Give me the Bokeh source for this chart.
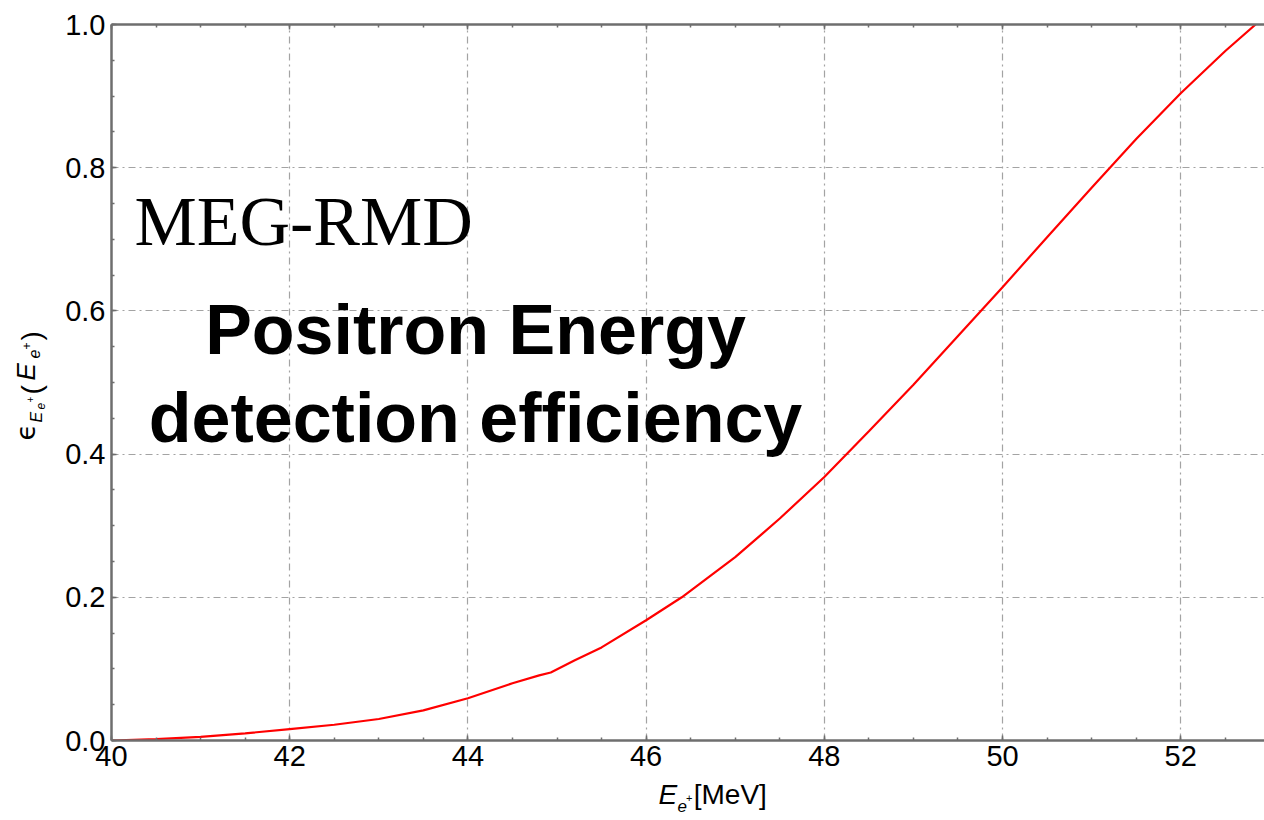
import math
from bokeh.plotting import figure
from bokeh.models import (Range1d, SingleIntervalTicker, PrintfTickFormatter,
                          LinearAxis, Label, CustomJSTickFormatter)
from bokeh.layouts import row, column
from bokeh.core.properties import value
from bokeh.embed import file_html
from bokeh.resources import INLINE

# ---------------- data ----------------
energy_mev = [40.0, 40.5, 41.0, 41.5, 42.0, 42.5, 43.0, 43.5, 44.0, 44.5,
              44.8, 44.93, 45.2, 45.5, 46.0, 46.4, 47.0, 47.5, 48.0, 48.5,
              49.0, 49.5, 50.0, 50.5, 51.0, 51.5, 52.0, 52.5, 52.84]
efficiency = [0.000, 0.002, 0.005, 0.010, 0.016, 0.022, 0.030, 0.042, 0.059, 0.080,
              0.091, 0.095, 0.112, 0.130, 0.168, 0.200, 0.256, 0.310, 0.368, 0.432,
              0.497, 0.565, 0.633, 0.703, 0.772, 0.840, 0.904, 0.963, 1.000]
x_tick_step = 2
y_tick_step = 0.2
annotation_serif = "MEG-RMD"
annotation_lines = ["Positron Energy", "detection efficiency"]

# ---------------- layout ----------------
W, H = 1264, 820
YLAB_W = 52          # strip holding the rotated y-axis label
XLAB_H = 42          # strip holding the x-axis label
LEFT, TOP, BOTTOM = 111, 24, 80   # frame position in the whole page
X0, X1 = 40.0, 52.94
Y0, Y1 = 0.0, 1.0
FW, FH = W - LEFT, H - TOP - BOTTOM
BASE_SHIFT = 0.37  # empirical em shift of Bokeh's alphabetic baseline


def dx(px):
    return X0 + (px - LEFT) / FW * (X1 - X0)


def dy(py):
    return Y1 - (py - TOP) / FH * (Y1 - Y0)


AX_COL = "#6e6e6e"
GRID_COL = "#a3a3a3"
SANS = "Liberation Sans"

p = figure(width=W - YLAB_W, height=H - XLAB_H,
           x_range=Range1d(X0, X1), y_range=Range1d(Y0, Y1),
           output_backend="svg", toolbar_location=None,
           min_border_left=LEFT - YLAB_W, min_border_right=0, min_border_top=TOP,
           min_border_bottom=BOTTOM - XLAB_H)
p.outline_line_color = None
p.background_fill_color = "white"
p.border_fill_color = "white"

xt = SingleIntervalTicker(interval=x_tick_step, num_minor_ticks=4)
yt = SingleIntervalTicker(interval=y_tick_step, num_minor_ticks=4)

for ax, tk, fmt in ((p.xaxis[0], xt, "%d"), (p.yaxis[0], yt, "%.1f")):
    ax.ticker = tk
    ax.formatter = PrintfTickFormatter(format=fmt)
    ax.axis_line_color = AX_COL
    ax.axis_line_width = 2.5
    ax.major_tick_line_color = AX_COL
    ax.minor_tick_line_color = AX_COL
    ax.major_tick_line_width = 1.5
    ax.minor_tick_line_width = 1.5
    ax.major_tick_in = 5
    ax.major_tick_out = 0
    ax.minor_tick_in = 3
    ax.minor_tick_out = 0
    ax.major_label_text_font = SANS
    ax.major_label_text_font_size = "29px"
    ax.major_label_text_color = "black"
    ax.major_label_standoff = 6
p.xaxis[0].major_label_standoff = 5

top_axis = LinearAxis(ticker=SingleIntervalTicker(interval=x_tick_step, num_minor_ticks=4),
                      formatter=CustomJSTickFormatter(code="return ''"))
top_axis.axis_line_color = AX_COL
top_axis.axis_line_width = 2.5
top_axis.major_tick_line_color = AX_COL
top_axis.minor_tick_line_color = AX_COL
top_axis.major_tick_line_width = 1.5
top_axis.minor_tick_line_width = 1.5
top_axis.major_tick_in = 5
top_axis.major_tick_out = 0
top_axis.minor_tick_in = 3
top_axis.minor_tick_out = 0
top_axis.major_label_text_font_size = "1px"
top_axis.major_label_standoff = 0
p.add_layout(top_axis, "above")

for g in (p.xgrid[0], p.ygrid[0]):
    g.grid_line_color = GRID_COL
    g.grid_line_dash = "7 4 2 4"
    g.grid_line_width = 1.2

p.xgrid[0].ticker = xt
p.ygrid[0].ticker = yt

p.line(energy_mev, efficiency, line_color="#ff0000", line_width=2.2)

# ---------------- in-plot annotations ----------------
p.add_layout(Label(x=dx(134), y=dy(247 - BASE_SHIFT * 70), text=annotation_serif,
                   text_font="Liberation Serif", text_font_size="70px",
                   text_color="black", text_align="left", text_baseline="alphabetic"))
for line_text, base_py in zip(annotation_lines, (355, 443)):
    p.add_layout(Label(x=dx(475), y=dy(base_py - BASE_SHIFT * 70), text=line_text,
                       text_font=SANS, text_font_size="70px", text_font_style="bold",
                       text_color="black", text_align="center", text_baseline="alphabetic"))


def strip(width, height, xr, yr):
    f = figure(width=width, height=height, x_range=Range1d(*xr), y_range=Range1d(*yr),
               output_backend="svg", toolbar_location=None,
               x_axis_location=None, y_axis_location=None,
               min_border_left=0, min_border_right=0, min_border_top=0, min_border_bottom=0)
    f.outline_line_color = None
    f.xgrid.visible = False
    f.ygrid.visible = False
    f.background_fill_color = "white"
    f.border_fill_color = "white"
    return f


# strips use page-pixel x and (H - page-pixel y) as coordinates
ylab = strip(YLAB_W, H, (0, YLAB_W), (0, H))
xlab = strip(W - YLAB_W, XLAB_H, (YLAB_W, W), (0, XLAB_H))


def put(fig, t, px, py, fs, style, font, rotated=False):
    if rotated:
        sx, sy, ang = px - BASE_SHIFT * fs, py, math.pi / 2
    else:
        sx, sy, ang = px, py - BASE_SHIFT * fs, 0.0
    fig.text(x=[sx], y=[H - sy], text=[t], angle=ang,
             text_font=value(font), text_font_size=value(f"{fs}px"),
             text_font_style=value(style), text_color="black",
             text_align="left", text_baseline="alphabetic")


# ---------------- x axis label  E_{e+}[MeV] ----------------
xlabel_parts = [
    ("E", 627, 804, 28, "italic"),
    ("e", 647, 812, 17, "italic"),
    ("+", 656, 802, 11, "normal"),
    ("[MeV]", 664, 804, 28, "normal"),
]
for t, px, py, fs, st in xlabel_parts:
    put(xlab, t, px, py, fs, st, SANS)

# ---------------- y axis label  eps_{E_{e+}}(E_{e+}) (rotated) ----------------
ylabel_parts = [
    ("\u03f5", 35, 440, 27, "normal", "DejaVu Sans"),
    ("E", 41.5, 422, 16, "italic", SANS),
    ("e", 44, 409, 12, "italic", SANS),
    ("+", 33, 402, 10, "normal", SANS),
    ("(", 41, 394, 28, "normal", SANS),
    ("E", 35, 380, 26, "italic", SANS),
    ("e", 39.5, 358, 16, "italic", SANS),
    ("+", 30, 349, 12, "normal", SANS),
    (")", 41, 340, 28, "normal", SANS),
]
for t, px, py, fs, st, fnt in ylabel_parts:
    put(ylab, t, px, py, fs, st, fnt, rotated=True)

layout = row(ylab, column(p, xlab, spacing=0), spacing=0)
open("out.html", "w").write(file_html(layout, INLINE))
